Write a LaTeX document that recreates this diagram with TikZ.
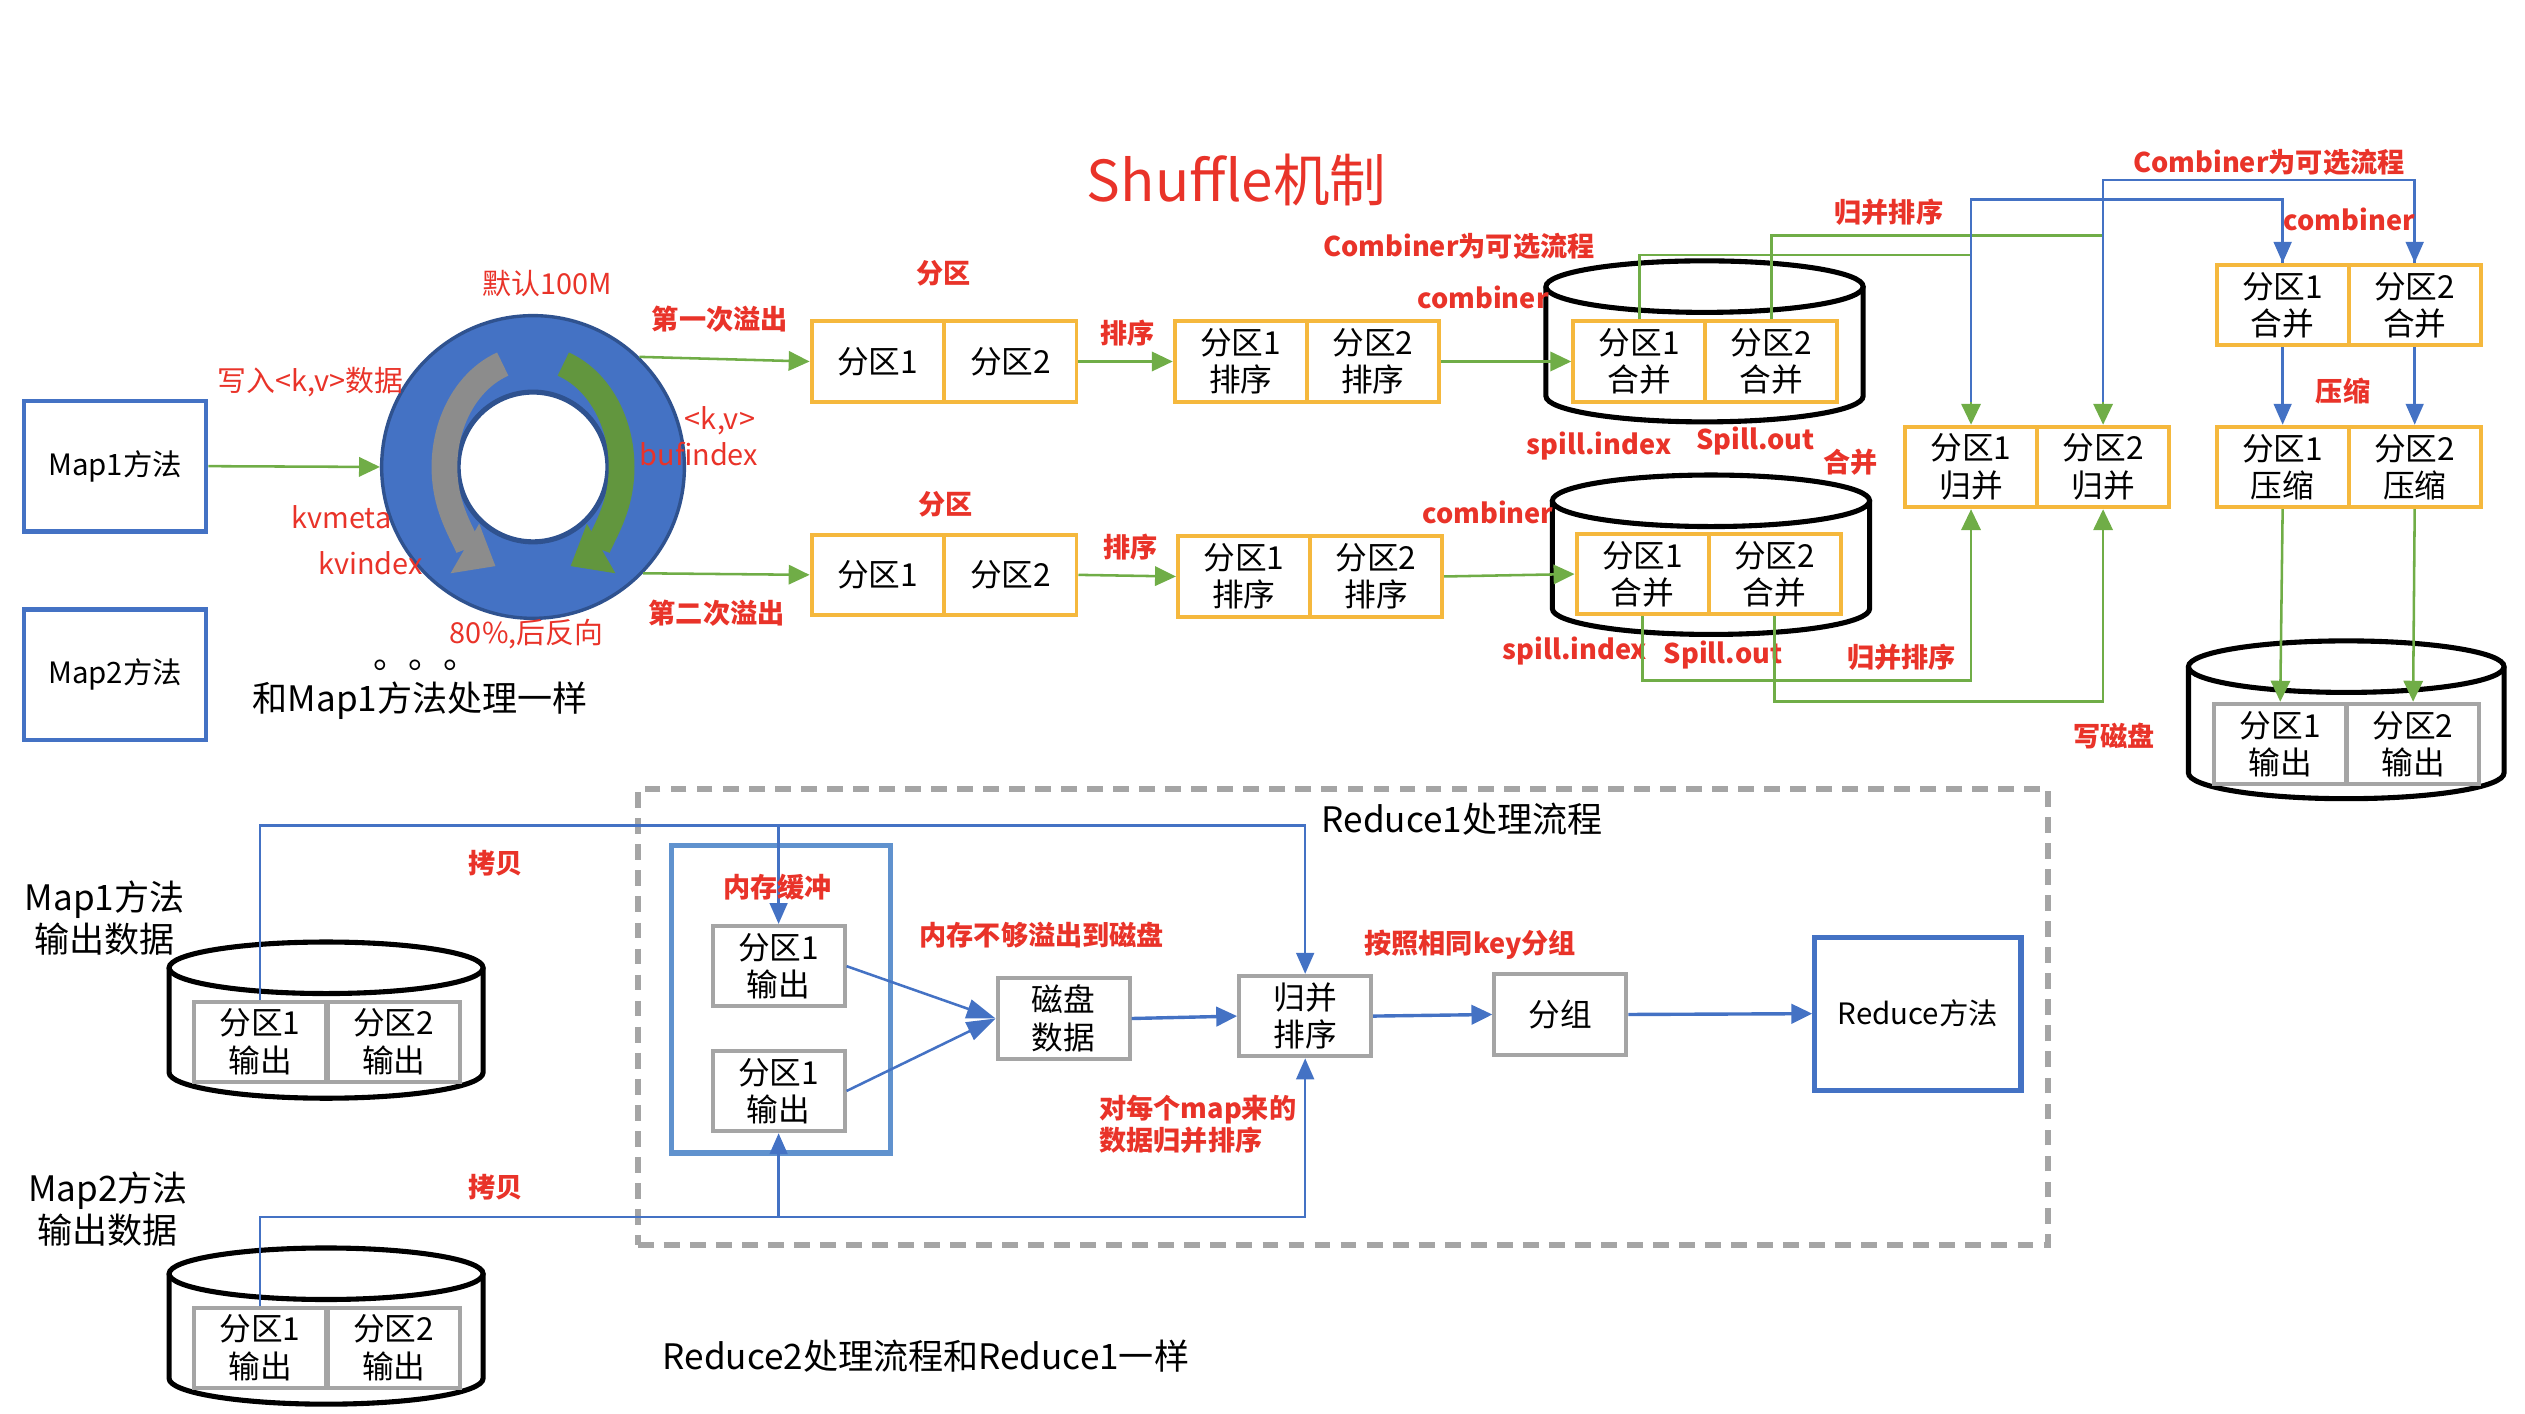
\documentclass[tikz,border=0pt]{standalone}
\usepackage{fontspec}
\setmainfont{Noto Sans CJK SC}
\usepackage{tikz}
\usetikzlibrary{calc,arrows.meta}

\definecolor{hred}{RGB}{233,51,41}
\definecolor{hblue}{RGB}{68,114,196}
\definecolor{hsky}{RGB}{96,146,206}
\definecolor{horange}{RGB}{245,184,61}
\definecolor{hgreen}{RGB}{112,173,71}
\definecolor{hgray}{RGB}{165,165,165}
\definecolor{ringedge}{RGB}{47,82,143}
\definecolor{arcgray}{RGB}{140,140,140}
\definecolor{arcgreen}{RGB}{98,150,62}

\newcommand{\cellfont}{\fontsize{5.6}{6.6}\selectfont}
\newcommand{\tagfont}{\fontsize{4.8}{5.7}\selectfont\bfseries}
\newcommand{\notefont}{\fontsize{5.1}{6}\selectfont}
\newcommand{\bigfont}{\fontsize{6.2}{7.4}\selectfont}

% drum: left, right, top, bottom (y counted downwards)
\newcommand{\drum}[4]{%
  \draw[drumline] (#1,-#3-16) -- (#1,-#4+16)
    arc[start angle=180, end angle=360, x radius={(#2-#1)*0.05mm}, y radius=1.6mm]
    -- (#2,-#3-16);
  \draw[drumline] ({(#1+#2)/2},-#3-16) ellipse [x radius={(#2-#1)*0.05mm}, y radius=1.6mm];
}

\begin{document}
\begin{tikzpicture}[x=0.1mm, y=0.1mm,
    cell/.style={draw=horange, line width=0.7pt, minimum width=8.2mm, minimum height=5mm,
      inner sep=0pt, align=center, font=\cellfont},
    gcell/.style={cell, draw=hgray},
    mapbox/.style={draw=hblue, line width=0.8pt, minimum width=11.3mm, minimum height=8.1mm,
      inner sep=0pt, font=\fontsize{5.2}{6}\selectfont},
    tag/.style={text=hred, font=\tagfont, inner sep=0pt},
    note/.style={text=hred, font=\notefont, inner sep=0pt},
    gline/.style={draw=hgreen, line width=0.45pt},
    garrow/.style={gline, -{Triangle[length=1.3mm, width=1.2mm]}},
    bline/.style={draw=hblue, line width=0.45pt},
    barrow/.style={bline, -{Triangle[length=1.3mm, width=1.1mm]}},
    drumline/.style={draw=black, line width=0.9pt},
  ]
  \useasboundingbox (0,0) rectangle (1568,-878);

  \node[text=hred, font=\fontsize{10}{12}\selectfont] (title) at (768,-112) {Shuffle机制};

  % map side
  \node[mapbox] (map1) at (71.5,-289.5) {Map1方法};
  \node[mapbox] (map2) at (71.5,-419) {Map2方法};

  \node[circle, fill=hblue, draw=ringedge, line width=0.6pt, minimum size=18.8mm, inner sep=0pt] (ring) at (331,-290) {};
  \node[circle, fill=white, draw=ringedge, line width=0.9pt, minimum size=9.3mm, inner sep=0pt] (hole) at (ring.center) {};
  \draw[line width=1.6mm, draw=arcgray, -{Triangle[length=2.2mm, width=3.4mm]}]
    ($(ring.center)+(110:5.5mm and 6.8mm)$) arc[start angle=110, end angle=245, x radius=5.5mm, y radius=6.8mm];
  \draw[line width=1.6mm, draw=arcgreen, -{Triangle[length=2.2mm, width=3.4mm]}]
    ($(ring.center)+(70:5.5mm and 6.8mm)$) arc[start angle=70, end angle=-65, x radius=5.5mm, y radius=6.8mm];

  \node[note] (write) at (193,-237) {写入<k,v>数据};
  \node[note] (size) at (340,-176) {默认100M};
  \node[note] (kv) at (447,-261) {<k,v>};
  \node[note] (bufidx) at (434,-282) {bufindex};
  \node[note] (kvmeta) at (212,-321) {kvmeta};
  \node[note] (kvidx) at (230,-350) {kvindex};
  \node[note] (pct) at (327,-394) {80\%,后反向};
  \node[font=\bigfont, anchor=base west, inner sep=0pt] (dots) at (231,-415) {。。。};
  \node[font=\bigfont] (same) at (261,-435) {和Map1方法处理一样};

  \draw[garrow] (map1.east) -- (ring.west);

  % first spill
  \node[cell] (pa1) at (545,-224.5) {分区1};
  \node[cell] (pa2) at (627.5,-224.5) {分区2};
  \node[cell] (sa1) at (770.5,-224.5) {分区1\\排序};
  \node[cell] (sa2) at (852.5,-224.5) {分区2\\排序};
  \drum{960}{1157}{162}{262}
  \node[cell] (ca1) at (1018,-224.5) {分区1\\合并};
  \node[cell] (ca2) at (1100,-224.5) {分区2\\合并};

  % second spill
  \node[cell] (pb1) at (545,-357) {分区1};
  \node[cell] (pb2) at (627.5,-357) {分区2};
  \node[cell] (sb1) at (772.5,-358) {分区1\\排序};
  \node[cell] (sb2) at (854.5,-358) {分区2\\排序};
  \drum{964}{1161}{295}{394}
  \node[cell] (da1) at (1020,-356.5) {分区1\\合并};
  \node[cell] (da2) at (1102,-356.5) {分区2\\合并};

  \draw[garrow] (ring.46) -- (pa1.west);
  \draw[garrow] (pa2.east) -- (sa1.west);
  \draw[garrow] (sa2.east) -- (ca1.west);
  \draw[garrow] (ring.-44) -- (pb1.west);
  \draw[garrow] (pb2.east) -- (sb1.west);
  \draw[garrow] (sb2.east) -- (da1.west);

  \node[tag] (spill1) at (447,-198) {第一次溢出};
  \node[tag] (spill2) at (445,-381) {第二次溢出};
  \node[tag] (parta) at (586,-170) {分区};
  \node[tag] (partb) at (587,-313) {分区};
  \node[tag] (sorta) at (700,-207) {排序};
  \node[tag] (sortb) at (702,-340) {排序};
  \node[tag] (opta) at (906,-153) {Combiner为可选流程};
  \node[tag] (comba) at (921,-185) {combiner};
  \node[tag] (combb) at (924,-318) {combiner};
  \node[tag] (idxa) at (993,-277) {spill.index};
  \node[tag] (outa) at (1090,-274) {Spill.out};
  \node[tag] (idxb) at (978,-404) {spill.index};
  \node[tag] (outb) at (1070,-407) {Spill.out};

  % merge and output
  \node[cell] (m1) at (1224,-290) {分区1\\归并};
  \node[cell] (m2) at (1306,-290) {分区2\\归并};
  \node[cell] (t1) at (1417.5,-189.5) {分区1\\合并};
  \node[cell] (t2) at (1499.5,-189.5) {分区2\\合并};
  \node[cell] (y1) at (1417.5,-290) {分区1\\压缩};
  \node[cell] (y2) at (1499.5,-290) {分区2\\压缩};
  \drum{1359}{1555}{398}{496}
  \node[gcell] (o1) at (1416,-462) {分区1\\输出};
  \node[gcell] (o2) at (1498.5,-462) {分区2\\输出};

  \draw[garrow] (ca1.north) -- ++(0,40) -| (m1.north);
  \draw[garrow] (ca2.north) -- ++(0,52) -| (m2.north);
  \draw[bline] ($(m1.north)+(0,14)$) -- ++(0,126) -| (t1.north);
  \draw[bline] ($(m2.north)+(0,14)$) -- ++(0,138) -| (t2.north);
  \draw[barrow] (t1.north |- 0,-160) -- (t1.north);
  \draw[barrow] (t2.north |- 0,-160) -- (t2.north);
  \draw[garrow] (da1.south) -- ++(0,-40) -| (m1.south);
  \draw[garrow] (da2.south) -- ++(0,-53) -| (m2.south);
  \draw[barrow] (t1.south) -- (y1.north);
  \draw[barrow] (t2.south) -- (y2.north);
  \draw[garrow] (y1.south) -- (o1.north);
  \draw[garrow] (y2.south) -- (o2.north);

  \node[tag] (mrgsorta) at (1173,-132) {归并排序};
  \node[tag] (mrgsortb) at (1181,-408) {归并排序};
  \node[tag] (merge) at (1149,-287) {合并};
  \node[tag] (optb) at (1409,-101) {Combiner为可选流程};
  \node[tag] (combc) at (1459,-136) {combiner};
  \node[tag] (zip) at (1455,-243) {压缩};
  \node[tag] (todisk) at (1313,-457) {写磁盘};

  % reduce side
  \node[draw=hgray, line width=1.1pt, dash pattern=on 2.8pt off 1.8pt, minimum width=87.6mm,
    minimum height=28.3mm, inner sep=0pt] (frame) at (834,-631.5) {};
  \node[font=\bigfont] (red1) at (908,-509) {Reduce1处理流程};

  \node[align=center, font=\bigfont] (out1) at (65,-570) {Map1方法\\输出数据};
  \node[align=center, font=\bigfont] (out2) at (67,-751) {Map2方法\\输出数据};
  \drum{105}{300}{585}{682}
  \node[gcell] (mo1) at (161.5,-647) {分区1\\输出};
  \node[gcell] (mo1b) at (244.5,-647) {分区2\\输出};
  \drum{105}{300}{775}{872}
  \node[gcell] (mo2) at (161.5,-837) {分区1\\输出};
  \node[gcell] (mo2b) at (244.5,-837) {分区2\\输出};

  \node[draw=hsky, line width=0.9pt, minimum width=13.6mm, minimum height=19.1mm, inner sep=0pt] (buffer) at (485,-620.5) {};
  \node[gcell] (buf1) at (483.5,-600) {分区1\\输出};
  \node[gcell] (buf2) at (483.5,-677.5) {分区1\\输出};
  \node[gcell] (disk) at (660.5,-632.5) {磁盘\\数据};
  \node[gcell] (mg) at (810.5,-631) {归并\\排序};
  \node[gcell] (grp) at (969,-630) {分组};
  \node[mapbox, line width=0.9pt, minimum width=12.8mm, minimum height=9.5mm] (reduce) at (1191,-629.5) {Reduce方法};

  \draw[barrow] (mo1.north) -- ++(0,108) coordinate (cp1) -| (buf1.north);
  \draw[barrow] (cp1 -| buf1.north) -| (mg.north);
  \draw[barrow] (mo2.north) -- ++(0,55) coordinate (cp2) -| (buf2.south);
  \draw[barrow] (cp2 -| buf2.south) -| (mg.south);
  \draw[bline, -{Triangle[length=1.8mm, width=1.2mm]}] (buf1.east) -- (disk.west);
  \draw[bline, -{Triangle[length=1.8mm, width=1.2mm]}] (buf2.east) -- (disk.west);
  \draw[bline, line width=0.6pt, -{Triangle[length=1.3mm, width=1.2mm]}] (disk.east) -- (mg.west);
  \draw[bline, line width=0.6pt, -{Triangle[length=1.3mm, width=1.2mm]}] (mg.east) -- (grp.west);
  \draw[bline, line width=0.6pt, -{Triangle[length=1.3mm, width=1.2mm]}] (grp.east) -- (reduce.west);

  \node[tag] (copya) at (308,-536) {拷贝};
  \node[tag] (copyb) at (308,-737) {拷贝};
  \node[tag] (memo) at (483,-551) {内存缓冲};
  \node[tag] (spilld) at (647,-581) {内存不够溢出到磁盘};
  \node[tag] (bykey) at (913,-587) {按照相同key分组};
  \node[tag, anchor=west, align=left] (permap) at (682,-698) {对每个map来的\\数据归并排序};

  \node[font=\bigfont] (red2) at (575,-842) {Reduce2处理流程和Reduce1一样};
\end{tikzpicture}
\end{document}
